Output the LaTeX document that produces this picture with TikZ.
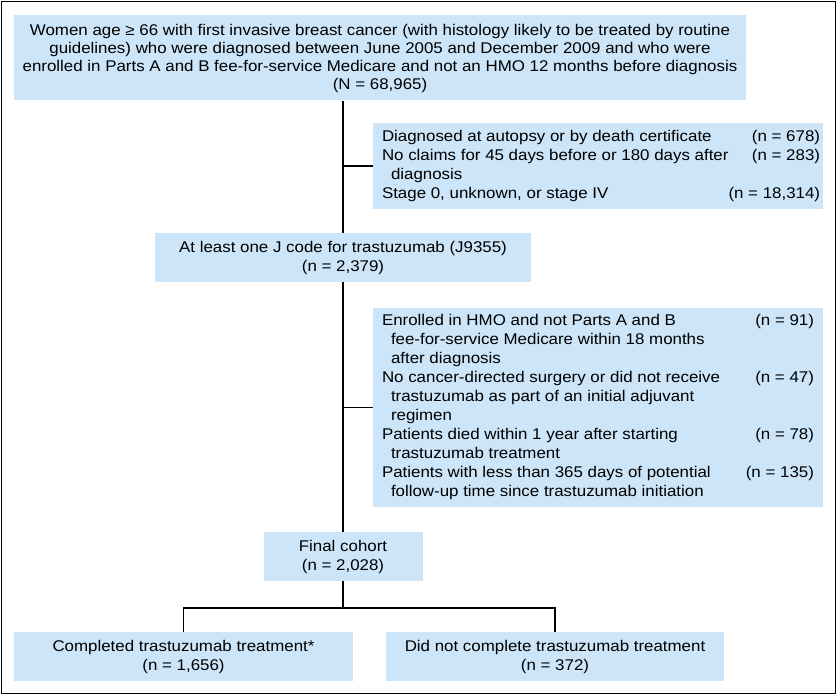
\documentclass[tikz,border=0pt]{standalone}
\usepackage{fontspec}
\setmainfont{Liberation Sans}
\newfontfamily\widefont[FakeStretch=1.09]{Liberation Sans}
\definecolor{boxblue}{RGB}{204,229,248}
\newcommand{\toptext}{\widefont\fontsize{15.5pt}{18pt}\selectfont}
\newcommand{\widetext}{\widefont\fontsize{15.5pt}{19pt}\selectfont}
\newcommand{\extext}{\widefont\fontsize{15.5pt}{19pt}\selectfont}
\newcommand{\ind}{\hspace*{9pt}}
\tikzset{
  box/.style={fill=boxblue, draw=none, inner sep=0pt, align=center},
  exbox/.style={fill=boxblue, draw=none, inner sep=0pt, minimum width=450pt, font=\extext},
  conn/.style={line width=1.8pt, black},
  frame/.style={line width=1.5pt, black}
}
\begin{document}
\begin{tikzpicture}[x=1pt, y=-1pt]
\useasboundingbox (0,0) rectangle (837,695);
\draw[frame] (1.5,1.5) rectangle (835.5,693.5);

\node[box, minimum width=732pt, minimum height=85pt, font=\toptext] (top) at (380,58)
  {Women age ≥ 66 with first invasive breast cancer (with histology likely to be treated by routine\\
   guidelines) who were diagnosed between June 2005 and December 2009 and who were\\
   enrolled in Parts A and B fee-for-service Medicare and not an HMO 12 months before diagnosis\\
   (N = 68,965)};

\node[exbox, minimum height=86pt] (ex1) at (598,166)
  {\begin{tabular*}{432pt}{@{}l@{\extracolsep{\fill}}r@{}}
   Diagnosed at autopsy or by death certificate & (n = 678)\\
   No claims for 45 days before or 180 days after & (n = 283)\\
   \ind diagnosis & \\
   Stage 0, unknown, or stage IV & (n = 18,314)
   \end{tabular*}};

\node[box, minimum width=376pt, minimum height=49pt, font=\widetext] (jbox) at (343,257.5)
  {At least one J code for trastuzumab (J9355)\\(n = 2,379)};

\node[exbox, minimum height=199pt] (ex2) at (598,407.5)
  {\begin{tabular*}{432pt}{@{}l@{\extracolsep{\fill}}r@{}}
   Enrolled in HMO and not Parts A and B & (n = 91)\\
   \ind fee-for-service Medicare within 18 months & \\
   \ind after diagnosis & \\
   No cancer-directed surgery or did not receive & (n = 47)\\
   \ind trastuzumab as part of an initial adjuvant & \\
   \ind regimen & \\
   Patients died within 1 year after starting & (n = 78)\\
   \ind trastuzumab treatment & \\
   Patients with less than 365 days of potential & (n = 135)\\
   \ind follow-up time since trastuzumab initiation &
   \end{tabular*}};

\node[box, minimum width=159pt, minimum height=49pt, font=\widetext] (final) at (343,556.5)
  {Final cohort\\(n = 2,028)};

\node[box, minimum width=339pt, minimum height=49pt, font=\widetext] (bl) at (183.5,656.5)
  {Completed trastuzumab treatment*\\(n = 1,656)};
\node[box, minimum width=338pt, minimum height=49pt, font=\widetext] (br) at (555,656.5)
  {Did not complete trastuzumab treatment\\(n = 372)};

\coordinate (split) at (343,608);
\draw[conn] (top.south -| jbox.north) -- (jbox.north);
\draw[conn] (ex1.west -| jbox.north) -- (ex1.west);
\draw[conn] (jbox.south) -- (final.north);
\draw[conn] (ex2.west -| jbox.south) -- (ex2.west);
\draw[conn] (final.south) -- (split);
\draw[conn] (bl.north) -- (bl.north |- split) -- (br.north |- split) -- (br.north);
\end{tikzpicture}
\end{document}
